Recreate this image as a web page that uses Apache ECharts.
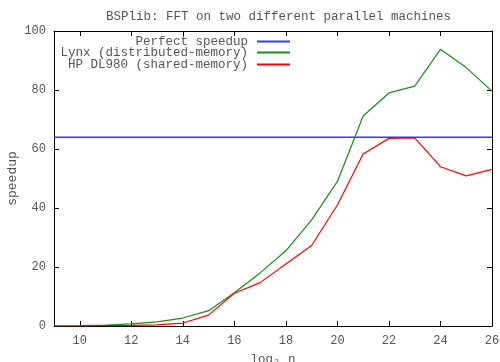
<!DOCTYPE html>
<html>
<head>
<meta charset="utf-8">
<script src="https://cdn.jsdelivr.net/npm/echarts@6/dist/echarts.min.js"></script>
<style>
  html, body { margin: 0; padding: 0; background: #fff; }
  #chart { width: 500px; height: 362px; }
</style>
</head>
<body>
<div id="chart"></div>
<script>
// log2 of problem size
const logN = [9, 10, 11, 12, 13, 14, 15, 16, 17, 18, 19, 20, 21, 22, 23, 24, 25, 26];
// measured speedups
const lynx = [0, 0.1, 0.3, 0.7, 1.4, 2.7, 5.2, 11.3, 18, 25.5, 36, 49, 71.2, 79, 81.3, 93.8, 87.6, 79.6];
const hp   = [0, 0, 0.1, 0.2, 0.4, 1.0, 3.7, 11.1, 14.7, 21, 27.3, 41, 58.3, 63.6, 63.8, 54, 50.9, 53.1];
const perfect = 64;
const xTicks = [10, 12, 14, 16, 18, 20, 22, 24, 26];
const yTicks = [0, 20, 40, 60, 80, 100];

const seriesNames = ['Perfect speedup', 'Lynx (distributed-memory)', 'HP DL980 (shared-memory)'];
const colors = ['#2a3cff', '#1a8c1a', '#ff0000'];

const FONT = '"Liberation Mono", "DejaVu Sans Mono", monospace';
const TXT = '#555555';

const chart = echarts.init(document.getElementById('chart'), null, { renderer: 'canvas' });

function xAxisDef(pos, showLabels) {
  return {
    type: 'value', position: pos, min: 9, max: 26,
    axisLine: { show: true, onZero: false, lineStyle: { color: '#000', width: 1 } },
    axisTick: { show: true, inside: true, length: 5, customValues: xTicks, lineStyle: { color: '#000' } },
    axisLabel: { show: showLabels, customValues: xTicks, color: TXT, fontFamily: FONT, fontSize: 12, margin: 9 },
    splitLine: { show: false },
    name: showLabels ? 'log\u2082 n' : '',
    nameLocation: 'middle', nameGap: 27,
    nameTextStyle: { color: TXT, fontFamily: FONT, fontSize: 12.5 }
  };
}
function yAxisDef(pos, showLabels) {
  return {
    type: 'value', position: pos, min: 0, max: 100, interval: 20,
    axisLine: { show: true, onZero: false, lineStyle: { color: '#000', width: 1 } },
    axisTick: { show: true, inside: true, length: 5, lineStyle: { color: '#000' } },
    axisLabel: { show: showLabels, color: TXT, fontFamily: FONT, fontSize: 12, margin: 8 },
    splitLine: { show: false },
    name: showLabels ? 'speedup' : '',
    nameLocation: 'middle', nameGap: 35, nameRotate: 90, nameMoveOverlap: false,
    nameTextStyle: { color: TXT, fontFamily: FONT, fontSize: 13 }
  };
}

function legendRow(i, top) {
  return {
    data: [seriesNames[i]], orient: 'vertical', align: 'right',
    right: 210, top: top, itemWidth: 33, itemHeight: 2, icon: 'rect',
    padding: 0, itemGap: 0,
    textStyle: { color: TXT, fontFamily: FONT, fontSize: 12.5, padding: [0, 4, 0, 0] }
  };
}

chart.setOption({
  animation: false,
  backgroundColor: '#fff',
  title: {
    text: 'BSPlib: FFT on two different parallel machines',
    left: 101, top: 5,
    textStyle: { color: TXT, fontFamily: FONT, fontSize: 12.5, fontWeight: 'normal' }
  },
  grid: { left: 54, right: 8, top: 31, bottom: 36, containLabel: false, outerBoundsMode: 'none' },
  legend: [legendRow(0, 35), legendRow(1, 46), legendRow(2, 58)],
  xAxis: [xAxisDef('bottom', true), xAxisDef('top', false)],
  yAxis: [yAxisDef('left', true), yAxisDef('right', false)],
  series: [
    {
      name: seriesNames[0], type: 'line', showSymbol: false, symbol: 'none',
      data: [[9, perfect], [26, perfect]],
      lineStyle: { color: colors[0], width: 1.5 }, itemStyle: { color: colors[0] }, z: 2
    },
    {
      name: seriesNames[1], type: 'line', showSymbol: false, symbol: 'none',
      data: logN.map((x, i) => [x, lynx[i]]),
      lineStyle: { color: colors[1], width: 1.2 }, itemStyle: { color: colors[1] }, z: 3
    },
    {
      name: seriesNames[2], type: 'line', showSymbol: false, symbol: 'none',
      data: logN.map((x, i) => [x, hp[i]]),
      lineStyle: { color: colors[2], width: 1.2 }, itemStyle: { color: colors[2] }, z: 4
    }
  ]
});
</script>
</body>
</html>
